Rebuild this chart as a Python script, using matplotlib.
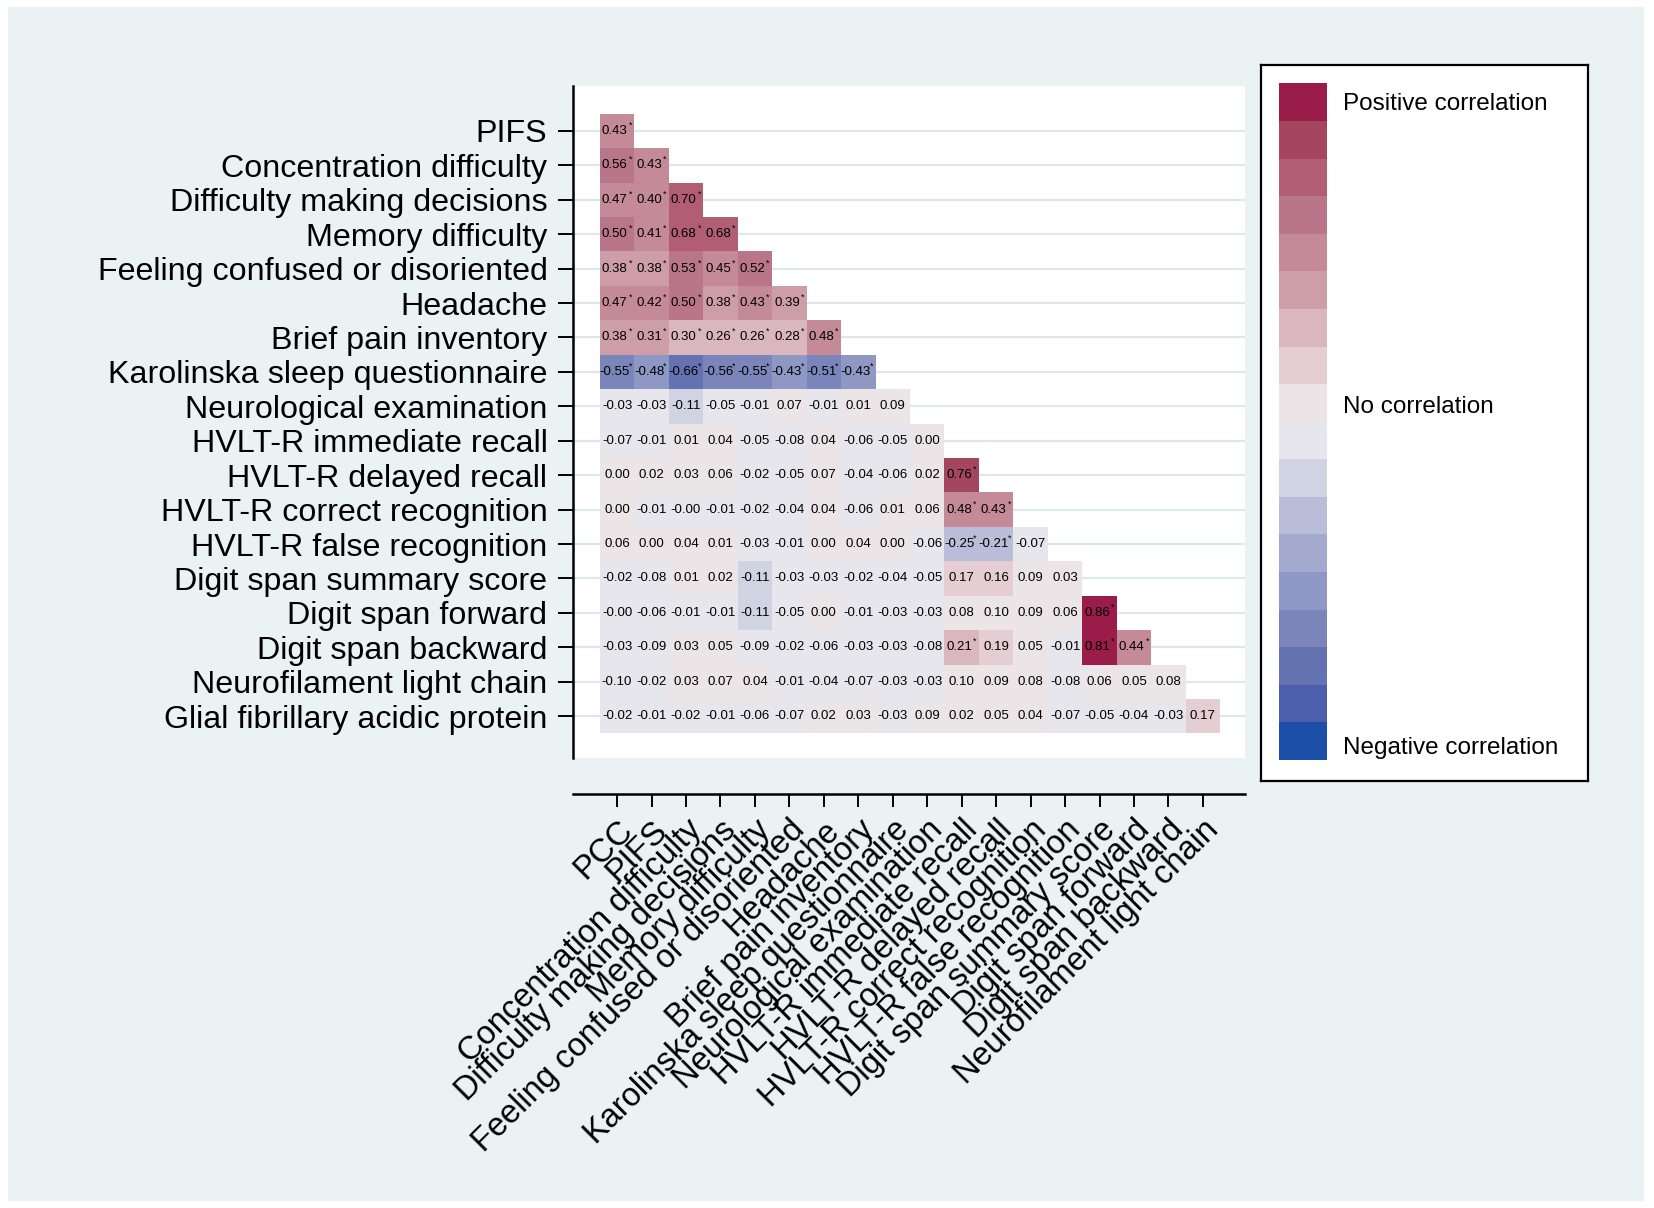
import numpy as np
import matplotlib
matplotlib.use("Agg")
import matplotlib.pyplot as plt
from matplotlib.colors import ListedColormap, BoundaryNorm
from matplotlib.patches import Rectangle

plt.rcParams['font.family'] = ['Liberation Sans', 'DejaVu Sans']

# variables on the x axis (columns) and y axis (rows)
col_labels = ["PCC", "PIFS", "Concentration difficulty", "Difficulty making decisions",
              "Memory difficulty", "Feeling confused or disoriented", "Headache",
              "Brief pain inventory", "Karolinska sleep questionnaire",
              "Neurological examination", "HVLT-R immediate recall", "HVLT-R delayed recall",
              "HVLT-R correct recognition", "HVLT-R false recognition",
              "Digit span summary score", "Digit span forward", "Digit span backward",
              "Neurofilament light chain"]
row_labels = col_labels[1:] + ["Glial fibrillary acidic protein"]

# lower triangle, one list per row (values as printed; a few estimated just under the
# printed value where the cell colour shows the lower bin)
r_pifs = [0.43]
r_conc = [0.56, 0.43]
r_decis = [0.47, 0.40, 0.698]
r_memory = [0.50, 0.41, 0.68, 0.68]
r_confused = [0.38, 0.38, 0.53, 0.45, 0.52]
r_headache = [0.47, 0.42, 0.50, 0.38, 0.43, 0.39]
r_bpi = [0.38, 0.31, 0.298, 0.26, 0.26, 0.28, 0.48]
r_ksq = [-0.55, -0.48, -0.66, -0.56, -0.55, -0.43, -0.51, -0.43]
r_neuro = [-0.03, -0.03, -0.11, -0.05, -0.01, 0.07, -0.01, 0.01, 0.09]
r_hv_imm = [-0.07, -0.01, 0.01, 0.04, -0.05, -0.08, 0.04, -0.06, -0.05, 0.00]
r_hv_del = [0.00, 0.02, 0.03, 0.06, -0.02, -0.05, 0.07, -0.04, -0.06, 0.02, 0.76]
r_hv_corr = [0.00, -0.01, -0.001, -0.01, -0.02, -0.04, 0.04, -0.06, 0.01, 0.06, 0.48, 0.43]
r_hv_false = [0.06, 0.00, 0.04, 0.01, -0.03, -0.01, 0.00, 0.04, 0.00, -0.06, -0.25, -0.21, -0.07]
r_ds_sum = [-0.02, -0.08, 0.01, 0.02, -0.11, -0.03, -0.03, -0.02, -0.04, -0.05, 0.17, 0.16,
            0.09, 0.03]
r_ds_fwd = [-0.001, -0.06, -0.01, -0.01, -0.11, -0.05, 0.00, -0.01, -0.03, -0.03, 0.08, 0.098,
            0.09, 0.06, 0.86]
r_ds_bwd = [-0.03, -0.09, 0.03, 0.05, -0.09, -0.02, -0.06, -0.03, -0.03, -0.08, 0.21, 0.19,
            0.05, -0.01, 0.81, 0.44]
r_nfl = [-0.10, -0.02, 0.03, 0.07, 0.04, -0.01, -0.04, -0.07, -0.03, -0.03, 0.098, 0.09, 0.08,
         -0.08, 0.06, 0.05, 0.08]
r_gfap = [-0.02, -0.01, -0.02, -0.01, -0.06, -0.07, 0.02, 0.03, -0.03, 0.09, 0.02, 0.05, 0.04,
          -0.07, -0.05, -0.04, -0.03, 0.17]
row_values = [r_pifs, r_conc, r_decis, r_memory, r_confused, r_headache, r_bpi, r_ksq,
              r_neuro, r_hv_imm, r_hv_del, r_hv_corr, r_hv_false, r_ds_sum, r_ds_fwd,
              r_ds_bwd, r_nfl, r_gfap]

# colour bins, from most negative to most positive
bin_colors = ["#1C4FA8", "#4C5FAC", "#6572B2", "#7C85BA", "#8F97C4", "#A4AACE", "#B9BDD7",
              "#D0D3E2", "#E7E6EC", "#ECE5E7", "#E4CED3", "#DAB7BE", "#CE9EA8", "#C48A98",
              "#B9758A", "#B15E75", "#A4475E", "#9A1C48"]
bin_edges = [-0.9, -0.8, -0.7, -0.6, -0.5, -0.4, -0.3, -0.2, -0.1, 0.0,
             0.1, 0.2, 0.3, 0.4, 0.5, 0.6, 0.7, 0.8, 0.9]

cmap = ListedColormap(bin_colors)
norm = BoundaryNorm(bin_edges, cmap.N)

n_rows = len(row_labels)
n_cols = len(col_labels)
corr = np.full((n_rows, n_cols), np.nan)
for i, vals in enumerate(row_values):
    corr[i, :len(vals)] = vals
masked = np.ma.masked_invalid(corr)

fig = plt.figure(figsize=(16.54, 12.08), dpi=100)
fig.patches.append(Rectangle((0.005, 0.006), 0.989, 0.988, transform=fig.transFigure,
                             facecolor="#EAF2F3", edgecolor="none", zorder=-10))

ax = fig.add_axes([0.3464, 0.3729, 0.4063, 0.5555])
ax.set_facecolor("white")
ax.set_axisbelow(True)
ax.yaxis.grid(True, color="#DCE8EA", lw=1.6)

mesh = ax.pcolormesh(np.arange(n_cols + 1) - 0.5, np.arange(n_rows + 1) - 0.5, masked,
                     cmap=cmap, norm=norm)

for i in range(n_rows):
    for j in range(n_cols):
        v = corr[i, j]
        if np.isnan(v):
            continue
        if abs(v) > 0.2:
            ax.text(j - 0.07, i, f"{v:.2f}", ha="center", va="center", fontsize=9.5)
            ax.text(j + 0.33, i - 0.17, "*", ha="left", va="center", fontsize=6.5)
        else:
            ax.text(j, i, f"{v:.2f}", ha="center", va="center", fontsize=9.5)

ax.set_xlim(-1.28, 18.22)
ax.set_ylim(18.2, -1.29)
ax.set_xticks(range(n_cols))
ax.set_xticklabels(col_labels)
ax.set_yticks(range(n_rows))
ax.set_yticklabels(row_labels)

ax.spines["top"].set_visible(False)
ax.spines["right"].set_visible(False)
ax.spines["left"].set_linewidth(1.8)
ax.spines["bottom"].set_linewidth(1.8)
ax.spines["bottom"].set_position(("outward", 26.6))
ax.tick_params(axis="y", length=10.8, width=1.4, pad=7.6, labelsize=23.2)
ax.tick_params(axis="x", length=9.4, width=1.4, pad=5, labelsize=23.5, labelrotation=45)
for lbl in ax.get_xticklabels():
    lbl.set_ha("right")
    lbl.set_rotation_mode("anchor")

# legend box
leg_ax = fig.add_axes([0.7624, 0.3535, 0.1977, 0.5927])
leg_ax.set_facecolor("white")
leg_ax.set_xticks([])
leg_ax.set_yticks([])
for sp in leg_ax.spines.values():
    sp.set_linewidth(1.6)
    sp.set_color("black")

cax = fig.add_axes([0.7733, 0.3709, 0.029, 0.56])
cb = fig.colorbar(mesh, cax=cax)
cb.set_ticks([])
cb.ax.minorticks_off()
cb.outline.set_visible(False)

fig.text(0.812, 0.9135, "Positive correlation", fontsize=17.5, va="center")
fig.text(0.812, 0.6630, "No correlation", fontsize=17.5, va="center")
fig.text(0.812, 0.3810, "Negative correlation", fontsize=17.5, va="center")

fig.savefig("out.png", dpi=100)
